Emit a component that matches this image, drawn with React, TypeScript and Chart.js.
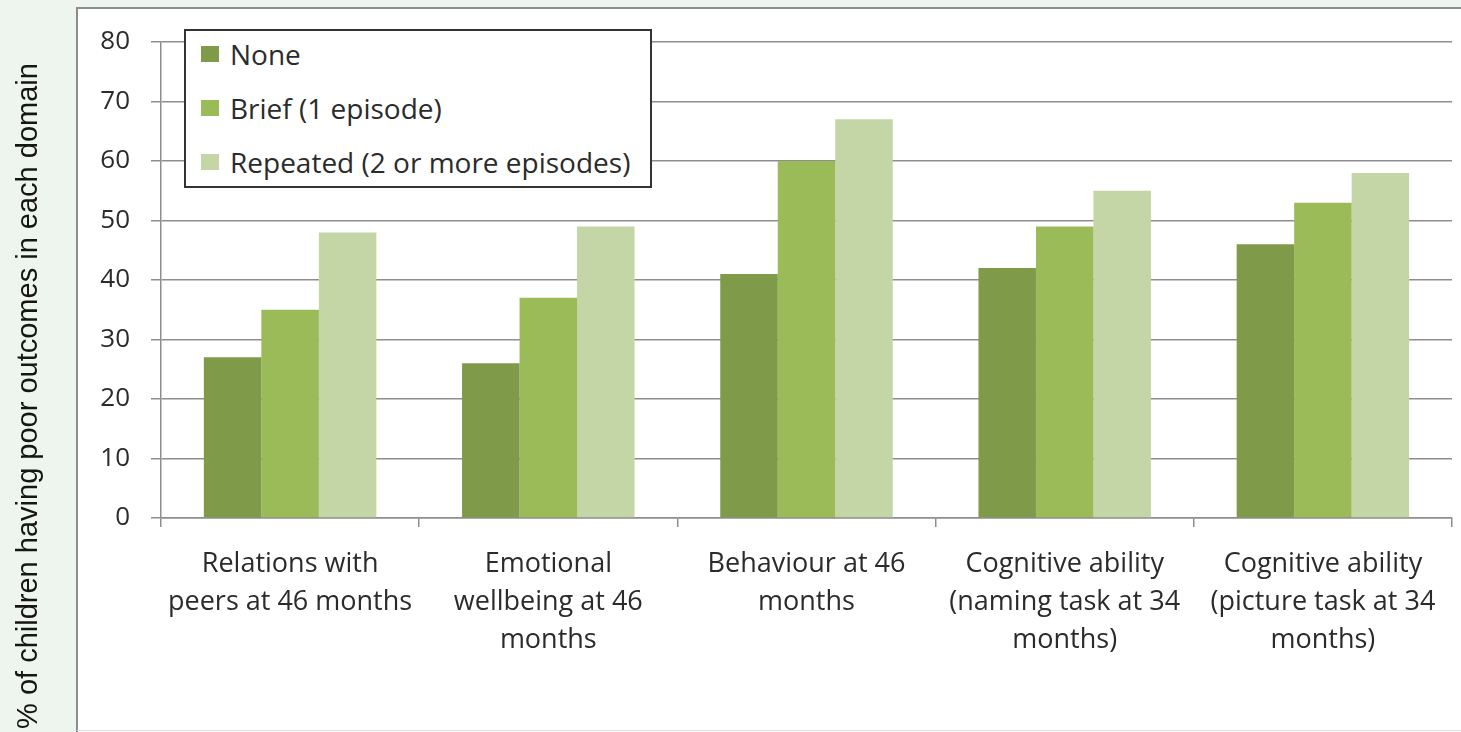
import React, { useEffect, useRef } from "react";
import { Chart, registerables } from "chart.js";

Chart.register(...registerables);

// ---- data ----
const categories: string[][] = [
  ["Relations with", "peers at 46 months"],
  ["Emotional", "wellbeing at 46", "months"],
  ["Behaviour at 46", "months"],
  ["Cognitive ability", "(naming task at 34", "months)"],
  ["Cognitive ability", "(picture task at 34", "months)"],
];
const seriesNames = ["None", "Brief (1 episode)", "Repeated (2 or more episodes)"];
const noneValues = [27, 26, 41, 42, 46];
const briefValues = [35, 37, 60, 49, 53];
const repeatedValues = [48, 49, 67, 55, 58];
const yMin = 0;
const yMax = 80;
const yStep = 10;
const yTitle = "% of children having poor outcomes in each domain";

// ---- styles ----
const seriesColors = ["#7f9a48", "#9bbb59", "#c4d6a6"];
const gridColor = "#8e8e8e";
const textColor = "#2b2b2b";
const labelFont = "'Open Sans'";

const framePlugin = {
  id: "frameAndTitle",
  beforeDraw(chart: any) {
    const ctx = chart.ctx as CanvasRenderingContext2D;
    const w = chart.width;
    const h = chart.height;
    ctx.save();
    ctx.fillStyle = "#eef5ee";
    ctx.fillRect(0, 0, w, h);
    ctx.fillStyle = "#ffffff";
    ctx.fillRect(77, 8, w - 77, h - 8);
    ctx.strokeStyle = "#8c8c8c";
    ctx.lineWidth = 2;
    ctx.beginPath();
    ctx.moveTo(77, h);
    ctx.lineTo(77, 8);
    ctx.lineTo(w, 8);
    ctx.stroke();
    ctx.strokeStyle = "#dddddd";
    ctx.lineWidth = 1;
    ctx.beginPath();
    ctx.moveTo(77, h - 1.5);
    ctx.lineTo(w, h - 1.5);
    ctx.stroke();
    // y axis title
    ctx.translate(37, 396);
    ctx.rotate(-Math.PI / 2);
    ctx.font = '29px "Liberation Sans", Arial, sans-serif';
    ctx.fillStyle = "#151515";
    ctx.textAlign = "center";
    ctx.textBaseline = "alphabetic";
    ctx.fillText(yTitle, 0, 0);
    ctx.restore();
  },
};

export default function App() {
  const canvasRef = useRef<HTMLCanvasElement | null>(null);

  useEffect(() => {
    if (!canvasRef.current) return;
    const seriesValues = [noneValues, briefValues, repeatedValues];
    const chart = new Chart(canvasRef.current, {
      type: "bar",
      data: {
        labels: categories,
        datasets: seriesNames.map((name, i) => ({
          label: name,
          data: seriesValues[i],
          backgroundColor: seriesColors[i],
          borderWidth: 0,
          categoryPercentage: 0.668,
          barPercentage: 1.0,
        })),
      },
      options: {
        responsive: false,
        animation: false,
        layout: { padding: { top: 42, right: 9, left: 0, bottom: 0 } },
        plugins: {
          legend: { display: false },
          tooltip: { enabled: false },
          title: { display: false },
        },
        scales: {
          x: {
            grid: {
              display: true,
              drawOnChartArea: false,
              drawTicks: true,
              tickLength: 9,
              color: gridColor,
              lineWidth: 1.5,
              offset: true,
            },
            border: { display: true, color: gridColor, width: 1.5 },
            ticks: {
              padding: 19,
              color: textColor,
              maxRotation: 0,
              autoSkip: false,
              font: { family: labelFont, size: 27, lineHeight: 1.39 },
            },
            afterFit: (s: any) => {
              s.height = 214;
            },
          },
          y: {
            min: yMin,
            max: yMax,
            ticks: {
              stepSize: yStep,
              padding: 21,
              color: textColor,
              font: { family: labelFont, size: 26 },
            },
            grid: {
              color: gridColor,
              lineWidth: 1.5,
              tickLength: 10,
              drawTicks: true,
            },
            border: { display: true, color: gridColor, width: 1.5 },
            afterFit: (s: any) => {
              s.width = 161;
            },
          },
        },
      },
      plugins: [framePlugin],
    });
    return () => chart.destroy();
  }, []);

  return (
    <div style={{ position: "fixed", left: 0, top: 0, width: 1461, height: 732, overflow: "hidden" }}>
      <canvas ref={canvasRef} width={1461} height={732} style={{ display: "block" }} />
      <div
        style={{
          position: "absolute",
          left: 184,
          top: 29,
          width: 464,
          height: 155,
          border: "2px solid #333333",
          background: "#ffffff",
          fontFamily: labelFont,
          fontSize: 28,
          color: textColor,
        }}
      >
        {seriesNames.map((name, i) => (
          <div
            key={name}
            style={{
              position: "absolute",
              left: 15,
              top: 7.5 + i * 54.3,
              height: 30,
              display: "flex",
              alignItems: "center",
              whiteSpace: "nowrap",
            }}
          >
            <span
              style={{
                display: "inline-block",
                width: 18,
                height: 16,
                background: seriesColors[i],
                marginRight: 11,
                flexShrink: 0,
              }}
            />
            <span>{name}</span>
          </div>
        ))}
      </div>
    </div>
  );
}
